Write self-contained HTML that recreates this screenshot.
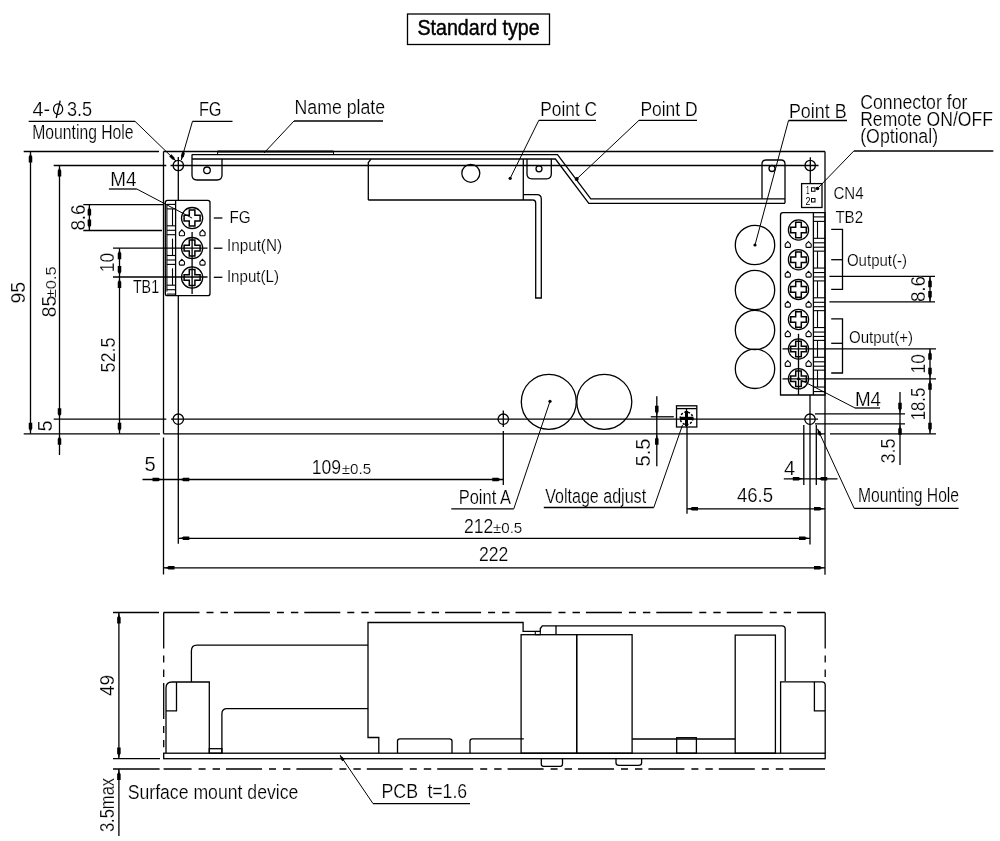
<!DOCTYPE html>
<html><head><meta charset="utf-8"><style>
html,body{margin:0;padding:0;background:#fff;width:1000px;height:841px;overflow:hidden}
svg{display:block;will-change:transform}
text{font-family:"Liberation Sans",sans-serif;fill:#000;stroke:#fff;stroke-width:0.2px;paint-order:normal}
</style></head><body>
<svg width="1000" height="841" viewBox="0 0 1000 841">
<rect width="1000" height="841" fill="#fff"/>
<rect x="407.5" y="14" width="142.0" height="30.5" rx="0" fill="none" stroke="#000" stroke-width="1.3"/>
<text x="417.5" y="35.4" font-size="21.5" text-anchor="start" font-weight="normal" textLength="122.20" lengthAdjust="spacingAndGlyphs" style="stroke:#000;stroke-width:0.45px">Standard type</text>
<path d="M163.50,151.50 L825.00,151.50" fill="none" stroke="#000" stroke-width="1.3"/>
<path d="M163.50,151.50 L163.50,433.80" fill="none" stroke="#000" stroke-width="1.3"/>
<path d="M163.50,437.50 L163.50,574.50" fill="none" stroke="#000" stroke-width="1.3"/>
<path d="M825.00,151.50 L825.00,574.70" fill="none" stroke="#000" stroke-width="1.3"/>
<path d="M163.50,433.80 L825.00,433.80" fill="none" stroke="#000" stroke-width="1.3"/>
<path d="M23.70,151.50 L159.00,151.50" fill="none" stroke="#000" stroke-width="1.3"/>
<path d="M53.70,165.50 L166.30,165.50" fill="none" stroke="#000" stroke-width="1.3"/>
<path d="M53.70,419.20 L166.30,419.20" fill="none" stroke="#000" stroke-width="1.3"/>
<path d="M23.70,433.80 L160.00,433.80" fill="none" stroke="#000" stroke-width="1.3"/>
<path d="M170.50,165.50 L818.50,165.50" fill="none" stroke="#000" stroke-width="1.3"/>
<path d="M171.00,419.20 L818.00,419.20" fill="none" stroke="#000" stroke-width="1.3"/>
<path d="M178.30,157.00 L178.30,200.00" fill="none" stroke="#000" stroke-width="1.3"/>
<path d="M178.30,295.50 L178.30,543.80" fill="none" stroke="#000" stroke-width="1.3"/>
<circle cx="178.3" cy="165.5" r="5.2" fill="none" stroke="#000" stroke-width="1.3"/>
<circle cx="810.2" cy="165.5" r="5.2" fill="none" stroke="#000" stroke-width="1.3"/>
<circle cx="178.3" cy="419.2" r="5.2" fill="none" stroke="#000" stroke-width="1.3"/>
<circle cx="503.3" cy="419.2" r="5.2" fill="none" stroke="#000" stroke-width="1.3"/>
<circle cx="810" cy="419.2" r="5.2" fill="none" stroke="#000" stroke-width="1.3"/>
<path d="M810.30,157.30 L810.30,183.60" fill="none" stroke="#000" stroke-width="1.3"/>
<path d="M503.30,410.50 L503.30,427.00" fill="none" stroke="#000" stroke-width="1.3"/>
<path d="M810.00,395.00 L810.00,544.60" fill="none" stroke="#000" stroke-width="1.3"/>
<path d="M217.60,151.60 L333.50,151.60" fill="none" stroke="#000" stroke-width="2.0"/>
<path d="M217.60,151.00 L217.60,155.00" fill="none" stroke="#000" stroke-width="1.0"/>
<path d="M333.50,151.00 L333.50,155.00" fill="none" stroke="#000" stroke-width="1.0"/>
<path d="M192.00,154.60 L557.50,154.60 L590.80,198.80 L785.00,198.80" fill="none" stroke="#000" stroke-width="1.3"/>
<path d="M192.00,159.00 L555.40,159.00 L588.80,203.30 L785.00,203.30" fill="none" stroke="#000" stroke-width="1.3"/>
<path d="M192,154.6 L192,175 Q192,180 197,180 L217,180 Q222,180 222,175 L222,159" fill="none" stroke="#000" stroke-width="1.3"/>
<circle cx="207" cy="170.3" r="3.3" fill="none" stroke="#000" stroke-width="1.3"/>
<path d="M368.3,200 L368.3,162.5 L371,159.2" fill="none" stroke="#000" stroke-width="1.3"/>
<path d="M368.30,200.00 L532.70,200.00" fill="none" stroke="#000" stroke-width="1.3"/>
<path d="M523.30,159.00 L523.30,200.00" fill="none" stroke="#000" stroke-width="1.3"/>
<circle cx="470.8" cy="173.3" r="9" fill="none" stroke="#000" stroke-width="1.3"/>
<path d="M523.3,194.6 L537,194.6 Q541.3,194.6 541.3,199 L541.3,298 L535.7,298 L535.7,203 Q535.7,200 532.7,200" fill="none" stroke="#000" stroke-width="1.3"/>
<path d="M527,159 L527,174 Q527,178.8 532,178.8 L546.5,178.8 Q551.3,178.8 551.3,174 L551.3,159" fill="none" stroke="#000" stroke-width="1.3"/>
<circle cx="539" cy="168.8" r="3" fill="none" stroke="#000" stroke-width="1.3"/>
<path d="M762,198.8 L762,164 Q762,160 766,160 L781,160 Q785,160 785,164 L785,203.3" fill="none" stroke="#000" stroke-width="1.3"/>
<circle cx="772" cy="168.5" r="3" fill="none" stroke="#000" stroke-width="1.3"/>
<text x="540.3" y="116.4" font-size="20" text-anchor="start" font-weight="normal" textLength="56.80" lengthAdjust="spacingAndGlyphs">Point C</text>
<path d="M596.00,120.30 L538.80,120.30" fill="none" stroke="#000" stroke-width="1.3"/>
<path d="M538.80,120.30 L510.20,178.30" fill="none" stroke="#000" stroke-width="1.0"/>
<circle cx="510.2" cy="178.3" r="1.6" fill="#000"/>
<text x="640.4" y="116.4" font-size="20" text-anchor="start" font-weight="normal" textLength="57.20" lengthAdjust="spacingAndGlyphs">Point D</text>
<path d="M697.00,120.30 L639.00,120.30" fill="none" stroke="#000" stroke-width="1.3"/>
<path d="M639.00,120.30 L576.70,179.00" fill="none" stroke="#000" stroke-width="1.0"/>
<circle cx="576.7" cy="179" r="2" fill="#000"/>
<text x="788.9" y="117.5" font-size="20" text-anchor="start" font-weight="normal" textLength="57.70" lengthAdjust="spacingAndGlyphs">Point B</text>
<path d="M847.00,120.50 L788.50,120.50" fill="none" stroke="#000" stroke-width="1.3"/>
<path d="M788.50,120.50 L755.00,245.00" fill="none" stroke="#000" stroke-width="1.0"/>
<circle cx="755" cy="245" r="1.6" fill="#000"/>
<text x="294.5" y="114.4" font-size="20" text-anchor="start" font-weight="normal" textLength="90.60" lengthAdjust="spacingAndGlyphs">Name plate</text>
<path d="M383.00,121.00 L294.00,121.00" fill="none" stroke="#000" stroke-width="1.3"/>
<path d="M294.00,121.00 L264.00,153.00" fill="none" stroke="#000" stroke-width="1.0"/>
<text x="32.5" y="115.5" font-size="20" text-anchor="start" font-weight="normal" textLength="17.60" lengthAdjust="spacingAndGlyphs">4-</text>
<ellipse cx="58.1" cy="109.2" rx="4.6" ry="5.3" fill="none" stroke="#000" stroke-width="1.2"/>
<path d="M60.20,100.60 L56.20,118.00" fill="none" stroke="#000" stroke-width="1.3"/>
<text x="67.0" y="115.5" font-size="20" text-anchor="start" font-weight="normal" textLength="25.20" lengthAdjust="spacingAndGlyphs">3.5</text>
<path d="M28.70,121.30 L135.00,121.30" fill="none" stroke="#000" stroke-width="1.3"/>
<path d="M135.00,121.30 L176.00,161.00" fill="none" stroke="#000" stroke-width="1.0"/>
<path d="M176.00,161.00 L173.43,159.63 L172.37,159.57 L169.21,156.51 L171.30,154.36 L174.46,157.42 L174.54,158.48 Z" fill="#000"/>
<text x="32.199999999999996" y="138.8" font-size="20" text-anchor="start" font-weight="normal" textLength="101.40" lengthAdjust="spacingAndGlyphs">Mounting Hole</text>
<text x="198.9" y="116.3" font-size="20" text-anchor="start" font-weight="normal" textLength="22.70" lengthAdjust="spacingAndGlyphs">FG</text>
<path d="M232.50,121.30 L192.50,121.30" fill="none" stroke="#000" stroke-width="1.3"/>
<path d="M192.50,121.30 L181.30,160.00" fill="none" stroke="#000" stroke-width="1.0"/>
<path d="M181.30,160.00 L181.31,157.09 L180.86,156.12 L182.08,151.90 L184.96,152.73 L183.74,156.96 L182.85,157.53 Z" fill="#000"/>
<text x="860.1999999999999" y="109" font-size="20" text-anchor="start" font-weight="normal" textLength="107.20" lengthAdjust="spacingAndGlyphs">Connector for</text>
<text x="860.1999999999999" y="126.3" font-size="20" text-anchor="start" font-weight="normal" textLength="132.70" lengthAdjust="spacingAndGlyphs">Remote ON/OFF</text>
<text x="860.1999999999999" y="142.8" font-size="20" text-anchor="start" font-weight="normal" textLength="77.90" lengthAdjust="spacingAndGlyphs">(Optional)</text>
<path d="M993.30,151.00 L853.80,151.00" fill="none" stroke="#000" stroke-width="1.3"/>
<path d="M853.80,151.00 L817.50,188.50" fill="none" stroke="#000" stroke-width="1.0"/>
<circle cx="817.5" cy="188.5" r="1.8" fill="#000"/>
<rect x="801.6" y="183.6" width="20.399999999999977" height="23.900000000000006" rx="0" fill="none" stroke="#000" stroke-width="1.3"/>
<text x="806" y="193.5" font-size="10" text-anchor="start" font-weight="normal" textLength="3.50" lengthAdjust="spacingAndGlyphs" style="stroke:none">1</text>
<rect x="811.5" y="187.8" width="3.5" height="3.5" rx="0" fill="none" stroke="#000" stroke-width="1"/>
<text x="805.5" y="204.5" font-size="10" text-anchor="start" font-weight="normal" textLength="5.00" lengthAdjust="spacingAndGlyphs" style="stroke:none">2</text>
<rect x="811.5" y="198.5" width="3.5" height="3.5" rx="0" fill="none" stroke="#000" stroke-width="1"/>
<text x="833.4" y="198.7" font-size="17" text-anchor="start" font-weight="normal" textLength="30.20" lengthAdjust="spacingAndGlyphs">CN4</text>
<text x="835.4" y="222.8" font-size="16.5" text-anchor="start" font-weight="normal" textLength="27.70" lengthAdjust="spacingAndGlyphs">TB2</text>
<path d="M167.5,200.3 L207.8,200.3 Q210,200.3 210,202.5 L210,293.4 Q210,295.6 207.8,295.6 L167.5,295.6 Q165.3,295.6 165.3,293.4 L165.3,202.5 Q165.3,200.3 167.5,200.3 Z" fill="none" stroke="#000" stroke-width="1.3"/>
<path d="M175.60,200.30 L175.60,295.60" fill="none" stroke="#000" stroke-width="1.3"/>
<circle cx="192.1" cy="218.1" r="10.6" fill="none" stroke="#000" stroke-width="1.3"/>
<path d="M189.29999999999998,210.1 L194.9,210.1 L194.9,215.29999999999998 L200.1,215.29999999999998 L200.1,220.9 L194.9,220.9 L194.9,226.1 L189.29999999999998,226.1 L189.29999999999998,220.9 L184.1,220.9 L184.1,215.29999999999998 L189.29999999999998,215.29999999999998 Z" fill="none" stroke="#000" stroke-width="1.5"/>
<circle cx="192.1" cy="248.1" r="10.6" fill="none" stroke="#000" stroke-width="1.3"/>
<path d="M189.29999999999998,240.1 L194.9,240.1 L194.9,245.29999999999998 L200.1,245.29999999999998 L200.1,250.9 L194.9,250.9 L194.9,256.1 L189.29999999999998,256.1 L189.29999999999998,250.9 L184.1,250.9 L184.1,245.29999999999998 L189.29999999999998,245.29999999999998 Z" fill="none" stroke="#000" stroke-width="1.5"/>
<circle cx="192.1" cy="277.5" r="10.6" fill="none" stroke="#000" stroke-width="1.3"/>
<path d="M189.29999999999998,269.5 L194.9,269.5 L194.9,274.7 L200.1,274.7 L200.1,280.3 L194.9,280.3 L194.9,285.5 L189.29999999999998,285.5 L189.29999999999998,280.3 L184.1,280.3 L184.1,274.7 L189.29999999999998,274.7 Z" fill="none" stroke="#000" stroke-width="1.5"/>
<path d="M181.9,229.9 L184.5,232.5 L184.5,234.7 Q184.5,235.7 183.5,235.7 L180.3,235.7 Q179.3,235.7 179.3,234.7 L179.3,232.5 Z" fill="none" stroke="#000" stroke-width="1.1"/>
<path d="M202.5,229.9 L205.1,232.5 L205.1,234.7 Q205.1,235.7 204.1,235.7 L200.9,235.7 Q199.9,235.7 199.9,234.7 L199.9,232.5 Z" fill="none" stroke="#000" stroke-width="1.1"/>
<path d="M181.9,259.3 L184.5,261.9 L184.5,264.1 Q184.5,265.1 183.5,265.1 L180.3,265.1 Q179.3,265.1 179.3,264.1 L179.3,261.9 Z" fill="none" stroke="#000" stroke-width="1.1"/>
<path d="M202.5,259.3 L205.1,261.9 L205.1,264.1 Q205.1,265.1 204.1,265.1 L200.9,265.1 Q199.9,265.1 199.9,264.1 L199.9,261.9 Z" fill="none" stroke="#000" stroke-width="1.1"/>
<path d="M166.90,204.40 L166.90,291.50" fill="none" stroke="#000" stroke-width="1.1"/>
<path d="M166.90,204.40 L175.60,204.40" fill="none" stroke="#000" stroke-width="1.1"/>
<path d="M166.90,208.90 L175.60,208.90" fill="none" stroke="#000" stroke-width="1.1"/>
<path d="M172.50,208.90 L172.50,225.80" fill="none" stroke="#000" stroke-width="1.1"/>
<path d="M166.90,225.80 L175.60,225.80" fill="none" stroke="#000" stroke-width="1.1"/>
<path d="M166.90,230.30 L175.60,230.30" fill="none" stroke="#000" stroke-width="1.1"/>
<path d="M166.90,234.70 L175.60,234.70" fill="none" stroke="#000" stroke-width="1.1"/>
<path d="M172.50,238.60 L172.50,255.50" fill="none" stroke="#000" stroke-width="1.1"/>
<path d="M166.90,255.50 L175.60,255.50" fill="none" stroke="#000" stroke-width="1.1"/>
<path d="M166.90,260.00 L175.60,260.00" fill="none" stroke="#000" stroke-width="1.1"/>
<path d="M166.90,264.40 L175.60,264.40" fill="none" stroke="#000" stroke-width="1.1"/>
<path d="M172.50,268.30 L172.50,285.20" fill="none" stroke="#000" stroke-width="1.1"/>
<path d="M166.90,285.20 L175.60,285.20" fill="none" stroke="#000" stroke-width="1.1"/>
<path d="M166.90,289.70 L175.60,289.70" fill="none" stroke="#000" stroke-width="1.1"/>
<path d="M166.90,294.10 L175.60,294.10" fill="none" stroke="#000" stroke-width="1.1"/>
<path d="M192.10,232.00 L192.10,294.00" fill="none" stroke="#000" stroke-width="1.3"/>
<path d="M113.00,248.20 L207.50,248.20" fill="none" stroke="#000" stroke-width="1.3"/>
<path d="M113.00,277.00 L207.50,277.00" fill="none" stroke="#000" stroke-width="1.3"/>
<path d="M213.80,218.00 L222.40,218.00" fill="none" stroke="#000" stroke-width="1.3"/>
<text x="229.4" y="222.8" font-size="17" text-anchor="start" font-weight="normal" textLength="21.20" lengthAdjust="spacingAndGlyphs">FG</text>
<path d="M213.80,248.20 L222.40,248.20" fill="none" stroke="#000" stroke-width="1.3"/>
<text x="226.9" y="251" font-size="17" text-anchor="start" font-weight="normal" textLength="55.20" lengthAdjust="spacingAndGlyphs">Input(N)</text>
<path d="M213.80,277.30 L222.40,277.30" fill="none" stroke="#000" stroke-width="1.3"/>
<text x="226.9" y="281.5" font-size="17" text-anchor="start" font-weight="normal" textLength="52.20" lengthAdjust="spacingAndGlyphs">Input(L)</text>
<text x="132.9" y="292.7" font-size="18.2" text-anchor="start" font-weight="normal" textLength="26.20" lengthAdjust="spacingAndGlyphs">TB1</text>
<text x="110.30000000000001" y="186.4" font-size="20" text-anchor="start" font-weight="normal" textLength="26.20" lengthAdjust="spacingAndGlyphs">M4</text>
<path d="M108.90,189.00 L136.80,189.00" fill="none" stroke="#000" stroke-width="1.3"/>
<path d="M136.80,189.00 L192.10,218.10" fill="none" stroke="#000" stroke-width="1.0"/>
<path d="M783,212.7 L825,212.7 L825,395 L780.5,395 L780.5,215.2 Q780.5,212.7 783,212.7 Z" fill="none" stroke="#000" stroke-width="1.3"/>
<path d="M813.40,212.70 L813.40,395.00" fill="none" stroke="#000" stroke-width="1.3"/>
<circle cx="798.5" cy="230" r="10.1" fill="none" stroke="#000" stroke-width="1.3"/>
<path d="M795.7,222.2 L801.3,222.2 L801.3,227.2 L806.3,227.2 L806.3,232.8 L801.3,232.8 L801.3,237.8 L795.7,237.8 L795.7,232.8 L790.7,232.8 L790.7,227.2 L795.7,227.2 Z" fill="none" stroke="#000" stroke-width="1.5"/>
<circle cx="798.5" cy="259.7" r="10.1" fill="none" stroke="#000" stroke-width="1.3"/>
<path d="M795.7,251.89999999999998 L801.3,251.89999999999998 L801.3,256.9 L806.3,256.9 L806.3,262.5 L801.3,262.5 L801.3,267.5 L795.7,267.5 L795.7,262.5 L790.7,262.5 L790.7,256.9 L795.7,256.9 Z" fill="none" stroke="#000" stroke-width="1.5"/>
<circle cx="798.5" cy="289.4" r="10.1" fill="none" stroke="#000" stroke-width="1.3"/>
<path d="M795.7,281.59999999999997 L801.3,281.59999999999997 L801.3,286.59999999999997 L806.3,286.59999999999997 L806.3,292.2 L801.3,292.2 L801.3,297.2 L795.7,297.2 L795.7,292.2 L790.7,292.2 L790.7,286.59999999999997 L795.7,286.59999999999997 Z" fill="none" stroke="#000" stroke-width="1.5"/>
<circle cx="798.5" cy="319.5" r="10.1" fill="none" stroke="#000" stroke-width="1.3"/>
<path d="M795.7,311.7 L801.3,311.7 L801.3,316.7 L806.3,316.7 L806.3,322.3 L801.3,322.3 L801.3,327.3 L795.7,327.3 L795.7,322.3 L790.7,322.3 L790.7,316.7 L795.7,316.7 Z" fill="none" stroke="#000" stroke-width="1.5"/>
<circle cx="798.5" cy="349" r="10.1" fill="none" stroke="#000" stroke-width="1.3"/>
<path d="M795.7,341.2 L801.3,341.2 L801.3,346.2 L806.3,346.2 L806.3,351.8 L801.3,351.8 L801.3,356.8 L795.7,356.8 L795.7,351.8 L790.7,351.8 L790.7,346.2 L795.7,346.2 Z" fill="none" stroke="#000" stroke-width="1.5"/>
<circle cx="798.5" cy="378.8" r="10.1" fill="none" stroke="#000" stroke-width="1.3"/>
<path d="M795.7,371.0 L801.3,371.0 L801.3,376.0 L806.3,376.0 L806.3,381.6 L801.3,381.6 L801.3,386.6 L795.7,386.6 L795.7,381.6 L790.7,381.6 L790.7,376.0 L795.7,376.0 Z" fill="none" stroke="#000" stroke-width="1.5"/>
<path d="M787.8,241.60000000000002 L790.4,244.20000000000002 L790.4,246.4 Q790.4,247.4 789.4,247.4 L786.1999999999999,247.4 Q785.1999999999999,247.4 785.1999999999999,246.4 L785.1999999999999,244.20000000000002 Z" fill="none" stroke="#000" stroke-width="1.1"/>
<path d="M808.6,241.60000000000002 L811.2,244.20000000000002 L811.2,246.4 Q811.2,247.4 810.2,247.4 L807.0,247.4 Q806.0,247.4 806.0,246.4 L806.0,244.20000000000002 Z" fill="none" stroke="#000" stroke-width="1.1"/>
<path d="M787.8,271.3 L790.4,273.9 L790.4,276.1 Q790.4,277.1 789.4,277.1 L786.1999999999999,277.1 Q785.1999999999999,277.1 785.1999999999999,276.1 L785.1999999999999,273.9 Z" fill="none" stroke="#000" stroke-width="1.1"/>
<path d="M808.6,271.3 L811.2,273.9 L811.2,276.1 Q811.2,277.1 810.2,277.1 L807.0,277.1 Q806.0,277.1 806.0,276.1 L806.0,273.9 Z" fill="none" stroke="#000" stroke-width="1.1"/>
<path d="M787.8,301.3 L790.4,303.9 L790.4,306.1 Q790.4,307.1 789.4,307.1 L786.1999999999999,307.1 Q785.1999999999999,307.1 785.1999999999999,306.1 L785.1999999999999,303.9 Z" fill="none" stroke="#000" stroke-width="1.1"/>
<path d="M808.6,301.3 L811.2,303.9 L811.2,306.1 Q811.2,307.1 810.2,307.1 L807.0,307.1 Q806.0,307.1 806.0,306.1 L806.0,303.9 Z" fill="none" stroke="#000" stroke-width="1.1"/>
<path d="M787.8,330.8 L790.4,333.4 L790.4,335.6 Q790.4,336.6 789.4,336.6 L786.1999999999999,336.6 Q785.1999999999999,336.6 785.1999999999999,335.6 L785.1999999999999,333.4 Z" fill="none" stroke="#000" stroke-width="1.1"/>
<path d="M808.6,330.8 L811.2,333.4 L811.2,335.6 Q811.2,336.6 810.2,336.6 L807.0,336.6 Q806.0,336.6 806.0,335.6 L806.0,333.4 Z" fill="none" stroke="#000" stroke-width="1.1"/>
<path d="M787.8,360.6 L790.4,363.2 L790.4,365.40000000000003 Q790.4,366.40000000000003 789.4,366.40000000000003 L786.1999999999999,366.40000000000003 Q785.1999999999999,366.40000000000003 785.1999999999999,365.40000000000003 L785.1999999999999,363.2 Z" fill="none" stroke="#000" stroke-width="1.1"/>
<path d="M808.6,360.6 L811.2,363.2 L811.2,365.40000000000003 Q811.2,366.40000000000003 810.2,366.40000000000003 L807.0,366.40000000000003 Q806.0,366.40000000000003 806.0,365.40000000000003 L806.0,363.2 Z" fill="none" stroke="#000" stroke-width="1.1"/>
<path d="M813.40,216.90 L825.00,216.90" fill="none" stroke="#000" stroke-width="1.1"/>
<path d="M813.40,221.40 L825.00,221.40" fill="none" stroke="#000" stroke-width="1.1"/>
<path d="M817.50,221.40 L817.50,238.30" fill="none" stroke="#000" stroke-width="1.1"/>
<path d="M813.40,238.30 L825.00,238.30" fill="none" stroke="#000" stroke-width="1.1"/>
<path d="M813.40,242.80 L825.00,242.80" fill="none" stroke="#000" stroke-width="1.1"/>
<path d="M813.40,247.20 L825.00,247.20" fill="none" stroke="#000" stroke-width="1.1"/>
<path d="M813.40,251.15 L825.00,251.15" fill="none" stroke="#000" stroke-width="1.1"/>
<path d="M817.50,251.15 L817.50,268.05" fill="none" stroke="#000" stroke-width="1.1"/>
<path d="M813.40,268.05 L825.00,268.05" fill="none" stroke="#000" stroke-width="1.1"/>
<path d="M813.40,272.55 L825.00,272.55" fill="none" stroke="#000" stroke-width="1.1"/>
<path d="M813.40,276.95 L825.00,276.95" fill="none" stroke="#000" stroke-width="1.1"/>
<path d="M813.40,280.90 L825.00,280.90" fill="none" stroke="#000" stroke-width="1.1"/>
<path d="M817.50,280.90 L817.50,297.80" fill="none" stroke="#000" stroke-width="1.1"/>
<path d="M813.40,297.80 L825.00,297.80" fill="none" stroke="#000" stroke-width="1.1"/>
<path d="M813.40,302.30 L825.00,302.30" fill="none" stroke="#000" stroke-width="1.1"/>
<path d="M813.40,306.70 L825.00,306.70" fill="none" stroke="#000" stroke-width="1.1"/>
<path d="M813.40,310.65 L825.00,310.65" fill="none" stroke="#000" stroke-width="1.1"/>
<path d="M817.50,310.65 L817.50,327.55" fill="none" stroke="#000" stroke-width="1.1"/>
<path d="M813.40,327.55 L825.00,327.55" fill="none" stroke="#000" stroke-width="1.1"/>
<path d="M813.40,332.05 L825.00,332.05" fill="none" stroke="#000" stroke-width="1.1"/>
<path d="M813.40,336.45 L825.00,336.45" fill="none" stroke="#000" stroke-width="1.1"/>
<path d="M813.40,340.40 L825.00,340.40" fill="none" stroke="#000" stroke-width="1.1"/>
<path d="M817.50,340.40 L817.50,357.30" fill="none" stroke="#000" stroke-width="1.1"/>
<path d="M813.40,357.30 L825.00,357.30" fill="none" stroke="#000" stroke-width="1.1"/>
<path d="M813.40,361.80 L825.00,361.80" fill="none" stroke="#000" stroke-width="1.1"/>
<path d="M813.40,366.20 L825.00,366.20" fill="none" stroke="#000" stroke-width="1.1"/>
<path d="M813.40,370.15 L825.00,370.15" fill="none" stroke="#000" stroke-width="1.1"/>
<path d="M817.50,370.15 L817.50,387.05" fill="none" stroke="#000" stroke-width="1.1"/>
<path d="M813.40,387.05 L825.00,387.05" fill="none" stroke="#000" stroke-width="1.1"/>
<path d="M813.40,391.55 L825.00,391.55" fill="none" stroke="#000" stroke-width="1.1"/>
<path d="M798.50,333.80 L798.50,395.00" fill="none" stroke="#000" stroke-width="1.3"/>
<path d="M782.50,348.80 L936.00,348.80" fill="none" stroke="#000" stroke-width="1.3"/>
<path d="M782.50,378.80 L936.00,378.80" fill="none" stroke="#000" stroke-width="1.3"/>
<path d="M831.20,229.40 L842.50,229.40 L842.50,289.40 L831.20,289.40" fill="none" stroke="#000" stroke-width="1.3"/>
<path d="M831.20,259.70 L842.50,259.70" fill="none" stroke="#000" stroke-width="1.3"/>
<text x="846.9" y="266.1" font-size="16.5" text-anchor="start" font-weight="normal" textLength="60.20" lengthAdjust="spacingAndGlyphs">Output(-)</text>
<path d="M831.20,318.80 L842.50,318.80 L842.50,373.00 L831.20,373.00" fill="none" stroke="#000" stroke-width="1.3"/>
<path d="M831.20,343.30 L842.50,343.30" fill="none" stroke="#000" stroke-width="1.3"/>
<text x="848.9" y="342.6" font-size="16.8" text-anchor="start" font-weight="normal" textLength="64.20" lengthAdjust="spacingAndGlyphs">Output(+)</text>
<text x="854.9" y="405.5" font-size="20" text-anchor="start" font-weight="normal" textLength="26.20" lengthAdjust="spacingAndGlyphs">M4</text>
<path d="M880.00,408.00 L855.00,408.00" fill="none" stroke="#000" stroke-width="1.3"/>
<path d="M855.00,408.00 L798.50,378.80" fill="none" stroke="#000" stroke-width="1.0"/>
<circle cx="798.5" cy="378.8" r="1.5" fill="#000"/>
<circle cx="755" cy="245" r="19.7" fill="none" stroke="#000" stroke-width="1.3"/>
<circle cx="755" cy="290" r="19.7" fill="none" stroke="#000" stroke-width="1.3"/>
<circle cx="755" cy="330" r="19.7" fill="none" stroke="#000" stroke-width="1.3"/>
<circle cx="755" cy="368.8" r="19.7" fill="none" stroke="#000" stroke-width="1.3"/>
<circle cx="548.8" cy="401.8" r="27.5" fill="none" stroke="#000" stroke-width="1.3"/>
<circle cx="604.3" cy="401.8" r="27.5" fill="none" stroke="#000" stroke-width="1.3"/>
<path d="M829.40,276.30 L935.00,276.30" fill="none" stroke="#000" stroke-width="1.3"/>
<path d="M829.40,301.90 L935.00,301.90" fill="none" stroke="#000" stroke-width="1.3"/>
<path d="M930.00,276.30 L930.00,301.90" fill="none" stroke="#000" stroke-width="1.3"/>
<path d="M930.00,276.30 L930.80,280.15 L931.75,281.25 L931.75,287.30 L928.25,287.30 L928.25,281.25 L929.20,280.15 Z" fill="#000"/>
<path d="M930.00,301.90 L929.20,298.05 L928.25,296.95 L928.25,290.90 L931.75,290.90 L931.75,296.95 L930.80,298.05 Z" fill="#000"/>
<text x="925" y="289" font-size="20" text-anchor="middle" font-weight="normal" textLength="26.20" lengthAdjust="spacingAndGlyphs" transform="rotate(-90 925 289)">8.6</text>
<path d="M930.00,348.80 L930.00,433.80" fill="none" stroke="#000" stroke-width="1.3"/>
<path d="M930.00,348.80 L930.80,352.65 L931.75,353.75 L931.75,359.80 L928.25,359.80 L928.25,353.75 L929.20,352.65 Z" fill="#000"/>
<path d="M930.00,378.80 L929.20,374.95 L928.25,373.85 L928.25,367.80 L931.75,367.80 L931.75,373.85 L930.80,374.95 Z" fill="#000"/>
<path d="M930.00,378.80 L930.80,382.65 L931.75,383.75 L931.75,389.80 L928.25,389.80 L928.25,383.75 L929.20,382.65 Z" fill="#000"/>
<path d="M930.00,433.80 L929.20,429.95 L928.25,428.85 L928.25,422.80 L931.75,422.80 L931.75,428.85 L930.80,429.95 Z" fill="#000"/>
<text x="925" y="363.8" font-size="20" text-anchor="middle" font-weight="normal" textLength="19.20" lengthAdjust="spacingAndGlyphs" transform="rotate(-90 925 363.8)">10</text>
<text x="925" y="404" font-size="20" text-anchor="middle" font-weight="normal" textLength="32.70" lengthAdjust="spacingAndGlyphs" transform="rotate(-90 925 404)">18.5</text>
<path d="M830.00,433.80 L936.00,433.80" fill="none" stroke="#000" stroke-width="1.3"/>
<path d="M815.00,413.80 L905.00,413.80" fill="none" stroke="#000" stroke-width="1.3"/>
<path d="M815.00,423.80 L905.00,423.80" fill="none" stroke="#000" stroke-width="1.3"/>
<path d="M900.00,392.00 L900.00,465.00" fill="none" stroke="#000" stroke-width="1.3"/>
<path d="M900.00,413.80 L899.20,409.95 L898.25,408.85 L898.25,402.80 L901.75,402.80 L901.75,408.85 L900.80,409.95 Z" fill="#000"/>
<path d="M900.00,423.80 L900.80,427.65 L901.75,428.75 L901.75,434.80 L898.25,434.80 L898.25,428.75 L899.20,427.65 Z" fill="#000"/>
<text x="895" y="451" font-size="20" text-anchor="middle" font-weight="normal" textLength="25.20" lengthAdjust="spacingAndGlyphs" transform="rotate(-90 895 451)">3.5</text>
<path d="M803.80,425.00 L803.80,485.00" fill="none" stroke="#000" stroke-width="1.3"/>
<path d="M816.30,425.00 L816.30,485.00" fill="none" stroke="#000" stroke-width="1.3"/>
<path d="M783.80,478.80 L837.50,478.80" fill="none" stroke="#000" stroke-width="1.3"/>
<path d="M803.80,478.80 L799.95,479.60 L798.85,480.55 L792.80,480.55 L792.80,477.05 L798.85,477.05 L799.95,478.00 Z" fill="#000"/>
<path d="M816.30,478.80 L820.15,478.00 L821.25,477.05 L827.30,477.05 L827.30,480.55 L821.25,480.55 L820.15,479.60 Z" fill="#000"/>
<text x="783.9" y="475" font-size="20" text-anchor="start" font-weight="normal" textLength="11.20" lengthAdjust="spacingAndGlyphs">4</text>
<path d="M958.60,508.40 L854.20,508.40" fill="none" stroke="#000" stroke-width="1.3"/>
<path d="M854.20,508.40 L817.50,428.80" fill="none" stroke="#000" stroke-width="1.0"/>
<path d="M817.50,428.80 L819.25,430.69 L820.18,431.03 L821.79,434.53 L819.07,435.78 L817.46,432.29 L817.80,431.36 Z" fill="#000"/>
<text x="857.9" y="502.2" font-size="20" text-anchor="start" font-weight="normal" textLength="101.20" lengthAdjust="spacingAndGlyphs">Mounting Hole</text>
<path d="M30.50,151.50 L30.50,433.80" fill="none" stroke="#000" stroke-width="1.3"/>
<path d="M30.50,151.50 L31.30,155.35 L32.25,156.45 L32.25,162.50 L28.75,162.50 L28.75,156.45 L29.70,155.35 Z" fill="#000"/>
<path d="M30.50,433.80 L29.70,429.95 L28.75,428.85 L28.75,422.80 L32.25,422.80 L32.25,428.85 L31.30,429.95 Z" fill="#000"/>
<text x="25.5" y="292.7" font-size="20" text-anchor="middle" font-weight="normal" textLength="21.80" lengthAdjust="spacingAndGlyphs" transform="rotate(-90 25.5 292.7)">95</text>
<path d="M59.50,165.50 L59.50,455.00" fill="none" stroke="#000" stroke-width="1.3"/>
<path d="M59.50,165.50 L60.30,169.35 L61.25,170.45 L61.25,176.50 L57.75,176.50 L57.75,170.45 L58.70,169.35 Z" fill="#000"/>
<path d="M59.50,419.20 L58.70,415.35 L57.75,414.25 L57.75,408.20 L61.25,408.20 L61.25,414.25 L60.30,415.35 Z" fill="#000"/>
<path d="M59.50,433.80 L60.30,437.65 L61.25,438.75 L61.25,444.80 L57.75,444.80 L57.75,438.75 L58.70,437.65 Z" fill="#000"/>
<text x="55.7" y="295.9" font-size="20" text-anchor="end" font-weight="normal" textLength="21.40" lengthAdjust="spacingAndGlyphs" transform="rotate(-90 55.7 295.9)">85</text>
<text x="55.7" y="298.1" font-size="14" text-anchor="start" font-weight="normal" textLength="31.70" lengthAdjust="spacingAndGlyphs" transform="rotate(-90 55.7 298.1)">±0.5</text>
<text x="52" y="426" font-size="20" text-anchor="middle" font-weight="normal" textLength="11.20" lengthAdjust="spacingAndGlyphs" transform="rotate(-90 52 426)">5</text>
<path d="M83.30,204.60 L163.30,204.60" fill="none" stroke="#000" stroke-width="1.3"/>
<path d="M83.30,230.50 L162.00,230.50" fill="none" stroke="#000" stroke-width="1.3"/>
<path d="M89.40,204.60 L89.40,230.50" fill="none" stroke="#000" stroke-width="1.3"/>
<path d="M89.40,204.60 L90.20,208.45 L91.15,209.55 L91.15,215.60 L87.65,215.60 L87.65,209.55 L88.60,208.45 Z" fill="#000"/>
<path d="M89.40,230.50 L88.60,226.65 L87.65,225.55 L87.65,219.50 L91.15,219.50 L91.15,225.55 L90.20,226.65 Z" fill="#000"/>
<text x="84.5" y="217.5" font-size="20" text-anchor="middle" font-weight="normal" textLength="26.20" lengthAdjust="spacingAndGlyphs" transform="rotate(-90 84.5 217.5)">8.6</text>
<path d="M119.50,248.20 L119.50,433.80" fill="none" stroke="#000" stroke-width="1.3"/>
<path d="M119.50,248.20 L120.30,252.05 L121.25,253.15 L121.25,259.20 L117.75,259.20 L117.75,253.15 L118.70,252.05 Z" fill="#000"/>
<path d="M119.50,277.00 L118.70,273.15 L117.75,272.05 L117.75,266.00 L121.25,266.00 L121.25,272.05 L120.30,273.15 Z" fill="#000"/>
<path d="M119.50,277.00 L120.30,280.85 L121.25,281.95 L121.25,288.00 L117.75,288.00 L117.75,281.95 L118.70,280.85 Z" fill="#000"/>
<path d="M119.50,433.80 L118.70,429.95 L117.75,428.85 L117.75,422.80 L121.25,422.80 L121.25,428.85 L120.30,429.95 Z" fill="#000"/>
<text x="114.5" y="262.6" font-size="20" text-anchor="middle" font-weight="normal" textLength="19.20" lengthAdjust="spacingAndGlyphs" transform="rotate(-90 114.5 262.6)">10</text>
<text x="114.5" y="355" font-size="20" text-anchor="middle" font-weight="normal" textLength="35.20" lengthAdjust="spacingAndGlyphs" transform="rotate(-90 114.5 355)">52.5</text>
<path d="M142.50,479.50 L503.30,479.50" fill="none" stroke="#000" stroke-width="1.3"/>
<path d="M163.50,479.50 L159.65,480.30 L158.55,481.25 L152.50,481.25 L152.50,477.75 L158.55,477.75 L159.65,478.70 Z" fill="#000"/>
<path d="M178.30,479.50 L182.15,478.70 L183.25,477.75 L189.30,477.75 L189.30,481.25 L183.25,481.25 L182.15,480.30 Z" fill="#000"/>
<path d="M503.30,479.50 L499.45,480.30 L498.35,481.25 L492.30,481.25 L492.30,477.75 L498.35,477.75 L499.45,478.70 Z" fill="#000"/>
<path d="M503.30,431.00 L503.30,485.00" fill="none" stroke="#000" stroke-width="1.3"/>
<text x="144.4" y="471" font-size="20" text-anchor="start" font-weight="normal" textLength="11.20" lengthAdjust="spacingAndGlyphs">5</text>
<text x="311.7" y="473.6" font-size="20" text-anchor="start" font-weight="normal" textLength="29.40" lengthAdjust="spacingAndGlyphs">109</text>
<text x="341.7" y="473.6" font-size="14" text-anchor="start" font-weight="normal" textLength="29.40" lengthAdjust="spacingAndGlyphs">±0.5</text>
<path d="M178.30,538.30 L810.00,538.30" fill="none" stroke="#000" stroke-width="1.3"/>
<path d="M178.30,538.30 L182.15,537.50 L183.25,536.55 L189.30,536.55 L189.30,540.05 L183.25,540.05 L182.15,539.10 Z" fill="#000"/>
<path d="M810.00,538.30 L806.15,539.10 L805.05,540.05 L799.00,540.05 L799.00,536.55 L805.05,536.55 L806.15,537.50 Z" fill="#000"/>
<text x="463.9" y="532.5" font-size="20" text-anchor="start" font-weight="normal" textLength="29.40" lengthAdjust="spacingAndGlyphs">212</text>
<text x="492.9" y="532.5" font-size="14" text-anchor="start" font-weight="normal" textLength="29.40" lengthAdjust="spacingAndGlyphs">±0.5</text>
<path d="M163.50,567.80 L825.00,567.80" fill="none" stroke="#000" stroke-width="1.3"/>
<path d="M163.50,567.80 L167.35,567.00 L168.45,566.05 L174.50,566.05 L174.50,569.55 L168.45,569.55 L167.35,568.60 Z" fill="#000"/>
<path d="M825.00,567.80 L821.15,568.60 L820.05,569.55 L814.00,569.55 L814.00,566.05 L820.05,566.05 L821.15,567.00 Z" fill="#000"/>
<text x="478.9" y="561" font-size="20" text-anchor="start" font-weight="normal" textLength="29.40" lengthAdjust="spacingAndGlyphs">222</text>
<path d="M451.30,508.80 L513.80,508.80" fill="none" stroke="#000" stroke-width="1.3"/>
<path d="M513.80,508.80 L550.00,401.30" fill="none" stroke="#000" stroke-width="1.0"/>
<circle cx="550" cy="401.3" r="1.6" fill="#000"/>
<text x="458.7" y="504.3" font-size="20" text-anchor="start" font-weight="normal" textLength="52.20" lengthAdjust="spacingAndGlyphs">Point A</text>
<rect x="676.5" y="405.8" width="20.299999999999955" height="21.19999999999999" rx="0" fill="none" stroke="#000" stroke-width="1.3"/>
<path d="M676.50,408.60 L696.80,408.60" fill="none" stroke="#000" stroke-width="1.3"/>
<path d="M686.50,409.00 L686.50,427.00" fill="none" stroke="#000" stroke-width="1.3"/>
<circle cx="686.5" cy="418.3" r="6.3" fill="none" stroke="#000" stroke-width="1.5" stroke-dasharray="2.2 1.6"/>
<rect x="680" y="416.8" width="13.5" height="3.2" fill="#000"/>
<rect x="685" y="411" width="3" height="15" fill="#000"/>
<path d="M543.80,507.50 L653.80,507.50" fill="none" stroke="#000" stroke-width="1.3"/>
<path d="M653.80,507.50 L682.50,425.00" fill="none" stroke="#000" stroke-width="1.0"/>
<text x="545.1999999999999" y="502.5" font-size="20" text-anchor="start" font-weight="normal" textLength="100.90" lengthAdjust="spacingAndGlyphs">Voltage adjust</text>
<path d="M650.80,416.80 L673.80,416.80" fill="none" stroke="#000" stroke-width="1.3"/>
<path d="M656.80,396.30 L656.80,466.30" fill="none" stroke="#000" stroke-width="1.3"/>
<path d="M656.80,416.80 L656.00,412.95 L655.05,411.85 L655.05,405.80 L658.55,405.80 L658.55,411.85 L657.60,412.95 Z" fill="#000"/>
<path d="M656.80,433.80 L657.60,437.65 L658.55,438.75 L658.55,444.80 L655.05,444.80 L655.05,438.75 L656.00,437.65 Z" fill="#000"/>
<text x="650" y="452.5" font-size="20" text-anchor="middle" font-weight="normal" textLength="28.20" lengthAdjust="spacingAndGlyphs" transform="rotate(-90 650 452.5)">5.5</text>
<path d="M687.00,427.00 L687.00,513.80" fill="none" stroke="#000" stroke-width="1.3"/>
<path d="M687.00,508.80 L825.00,508.80" fill="none" stroke="#000" stroke-width="1.3"/>
<path d="M687.00,508.80 L690.85,508.00 L691.95,507.05 L698.00,507.05 L698.00,510.55 L691.95,510.55 L690.85,509.60 Z" fill="#000"/>
<path d="M825.00,508.80 L821.15,509.60 L820.05,510.55 L814.00,510.55 L814.00,507.05 L820.05,507.05 L821.15,508.00 Z" fill="#000"/>
<text x="736.9" y="502" font-size="20" text-anchor="start" font-weight="normal" textLength="36.20" lengthAdjust="spacingAndGlyphs">46.5</text>
<path d="M113.00,612.50 L159.00,612.50" fill="none" stroke="#000" stroke-width="1.3"/>
<path d="M163.5,612.5 L825,612.5" stroke="#000" stroke-width="1.3" stroke-dasharray="36 7 7 7 7.4 6" stroke-dashoffset="0" fill="none"/>
<path d="M163.7,612.5 L163.7,753" stroke="#000" stroke-width="1.3" stroke-dasharray="36 7 7 7 7.4 6" stroke-dashoffset="0" fill="none"/>
<path d="M825.2,612.5 L825.2,681" stroke="#000" stroke-width="1.3" stroke-dasharray="36 7 7 7 7.4 6" stroke-dashoffset="0" fill="none"/>
<path d="M113.00,758.60 L160.00,758.60" fill="none" stroke="#000" stroke-width="1.3"/>
<path d="M113.00,769.00 L159.60,769.00" fill="none" stroke="#000" stroke-width="1.3"/>
<path d="M163.6,769 L825,769" stroke="#000" stroke-width="1.3" stroke-dasharray="36 7 7 7 7.4 6" stroke-dashoffset="8" fill="none"/>
<path d="M118.90,612.50 L118.90,758.60" fill="none" stroke="#000" stroke-width="1.3"/>
<path d="M118.90,612.50 L119.70,616.35 L120.65,617.45 L120.65,623.50 L117.15,623.50 L117.15,617.45 L118.10,616.35 Z" fill="#000"/>
<path d="M118.90,758.60 L118.10,754.75 L117.15,753.65 L117.15,747.60 L120.65,747.60 L120.65,753.65 L119.70,754.75 Z" fill="#000"/>
<text x="114" y="685.5" font-size="20" text-anchor="middle" font-weight="normal" textLength="21.20" lengthAdjust="spacingAndGlyphs" transform="rotate(-90 114 685.5)">49</text>
<path d="M118.90,769.00 L118.90,836.00" fill="none" stroke="#000" stroke-width="1.3"/>
<path d="M118.90,769.00 L119.70,772.85 L120.65,773.95 L120.65,780.00 L117.15,780.00 L117.15,773.95 L118.10,772.85 Z" fill="#000"/>
<text x="114" y="805" font-size="20" text-anchor="middle" font-weight="normal" textLength="54.20" lengthAdjust="spacingAndGlyphs" transform="rotate(-90 114 805)">3.5max</text>
<text x="127.70000000000002" y="798.8" font-size="20" text-anchor="start" font-weight="normal" textLength="170.70" lengthAdjust="spacingAndGlyphs">Surface mount device</text>
<rect x="163.7" y="753.2" width="661.5" height="5.5" rx="0" fill="none" stroke="#000" stroke-width="1.3"/>
<path d="M373.00,803.60 L470.00,803.60" fill="none" stroke="#000" stroke-width="1.3"/>
<path d="M340.00,755.00 L373.00,803.60" fill="none" stroke="#000" stroke-width="1.0"/>
<text x="381.5" y="798" font-size="20" text-anchor="start" font-weight="normal" textLength="36.60" lengthAdjust="spacingAndGlyphs">PCB</text>
<text x="427.4" y="798" font-size="20" text-anchor="start" font-weight="normal" textLength="39.70" lengthAdjust="spacingAndGlyphs">t=1.6</text>
<path d="M340.00,755.50 L341.84,756.79 L342.59,757.00 L344.45,759.73 L342.30,761.19 L340.44,758.46 L340.52,757.69 Z" fill="#000"/>
<path d="M166,753 L166,688 Q166,682 172,682 L209.3,682 L209.3,753" fill="none" stroke="#000" stroke-width="1.3"/>
<path d="M176.5,682 L176.5,710.8 L166,710.8" fill="none" stroke="#000" stroke-width="1.3"/>
<path d="M191.4,682 L191.4,651 Q191.4,645.2 197,645.2 L368,645.2" fill="none" stroke="#000" stroke-width="1.3"/>
<path d="M221.9,753 L221.9,714 Q221.9,708.7 227,708.7 L368,708.7" fill="none" stroke="#000" stroke-width="1.3"/>
<rect x="209.3" y="748.7" width="12.599999999999994" height="4.5" rx="0" fill="none" stroke="#000" stroke-width="1.3"/>
<path d="M378.8,753 L378.8,737.5 L368,737.5 L368,622.5 L523.1,622.5 L523.1,631.3 L540.3,631.3" fill="none" stroke="#000" stroke-width="1.3"/>
<path d="M397.5,753 L397.5,741 Q397.5,738.8 400,738.8 L449.5,738.8 Q452,738.8 452,741 L452,753" fill="none" stroke="#000" stroke-width="1.3"/>
<path d="M470,753 L470,741 Q470,738.8 472.5,738.8 L523.8,738.8" fill="none" stroke="#000" stroke-width="1.3"/>
<rect x="535.3" y="631.5" width="5.0" height="3.2000000000000455" rx="0" fill="none" stroke="#000" stroke-width="1.1"/>
<path d="M540.3,631.3 L540.3,628.5 L542.3,625.8 L782,625.8 Q785.2,625.8 785.2,629 L785.2,681" fill="none" stroke="#000" stroke-width="1.3"/>
<path d="M556.00,625.80 L556.00,634.70" fill="none" stroke="#000" stroke-width="1.3"/>
<rect x="521.1" y="634.7" width="55.60000000000002" height="118.5" rx="0" fill="none" stroke="#000" stroke-width="1.3"/>
<rect x="576.7" y="634.7" width="55.39999999999998" height="118.5" rx="0" fill="none" stroke="#000" stroke-width="1.3"/>
<path d="M632.10,739.00 L735.20,739.00" fill="none" stroke="#000" stroke-width="1.3"/>
<rect x="676.7" y="737.7" width="19.699999999999932" height="15.5" rx="0" fill="none" stroke="#000" stroke-width="1.3"/>
<rect x="735.2" y="635.1" width="40.19999999999993" height="118.10000000000002" rx="0" fill="none" stroke="#000" stroke-width="1.3"/>
<path d="M780.6,753 L780.6,681.8 L822,681.8 Q825.2,681.8 825.2,685 L825.2,753" fill="none" stroke="#000" stroke-width="1.3"/>
<path d="M814.4,681.8 L814.4,710.8 L825.2,710.8" fill="none" stroke="#000" stroke-width="1.3"/>
<path d="M541.3,758.7 L541.3,764 Q541.3,766.3 543.5,766.3 L560.3,766.3 Q562.5,766.3 562.5,764 L562.5,758.7" fill="none" stroke="#000" stroke-width="1.3"/>
<path d="M616,758.7 L616,763 Q616,765.4 619,765.4 L638.6,765.4 Q641.6,765.4 641.6,763 L641.6,758.7" fill="none" stroke="#000" stroke-width="1.3"/>
</svg>
</body></html>
